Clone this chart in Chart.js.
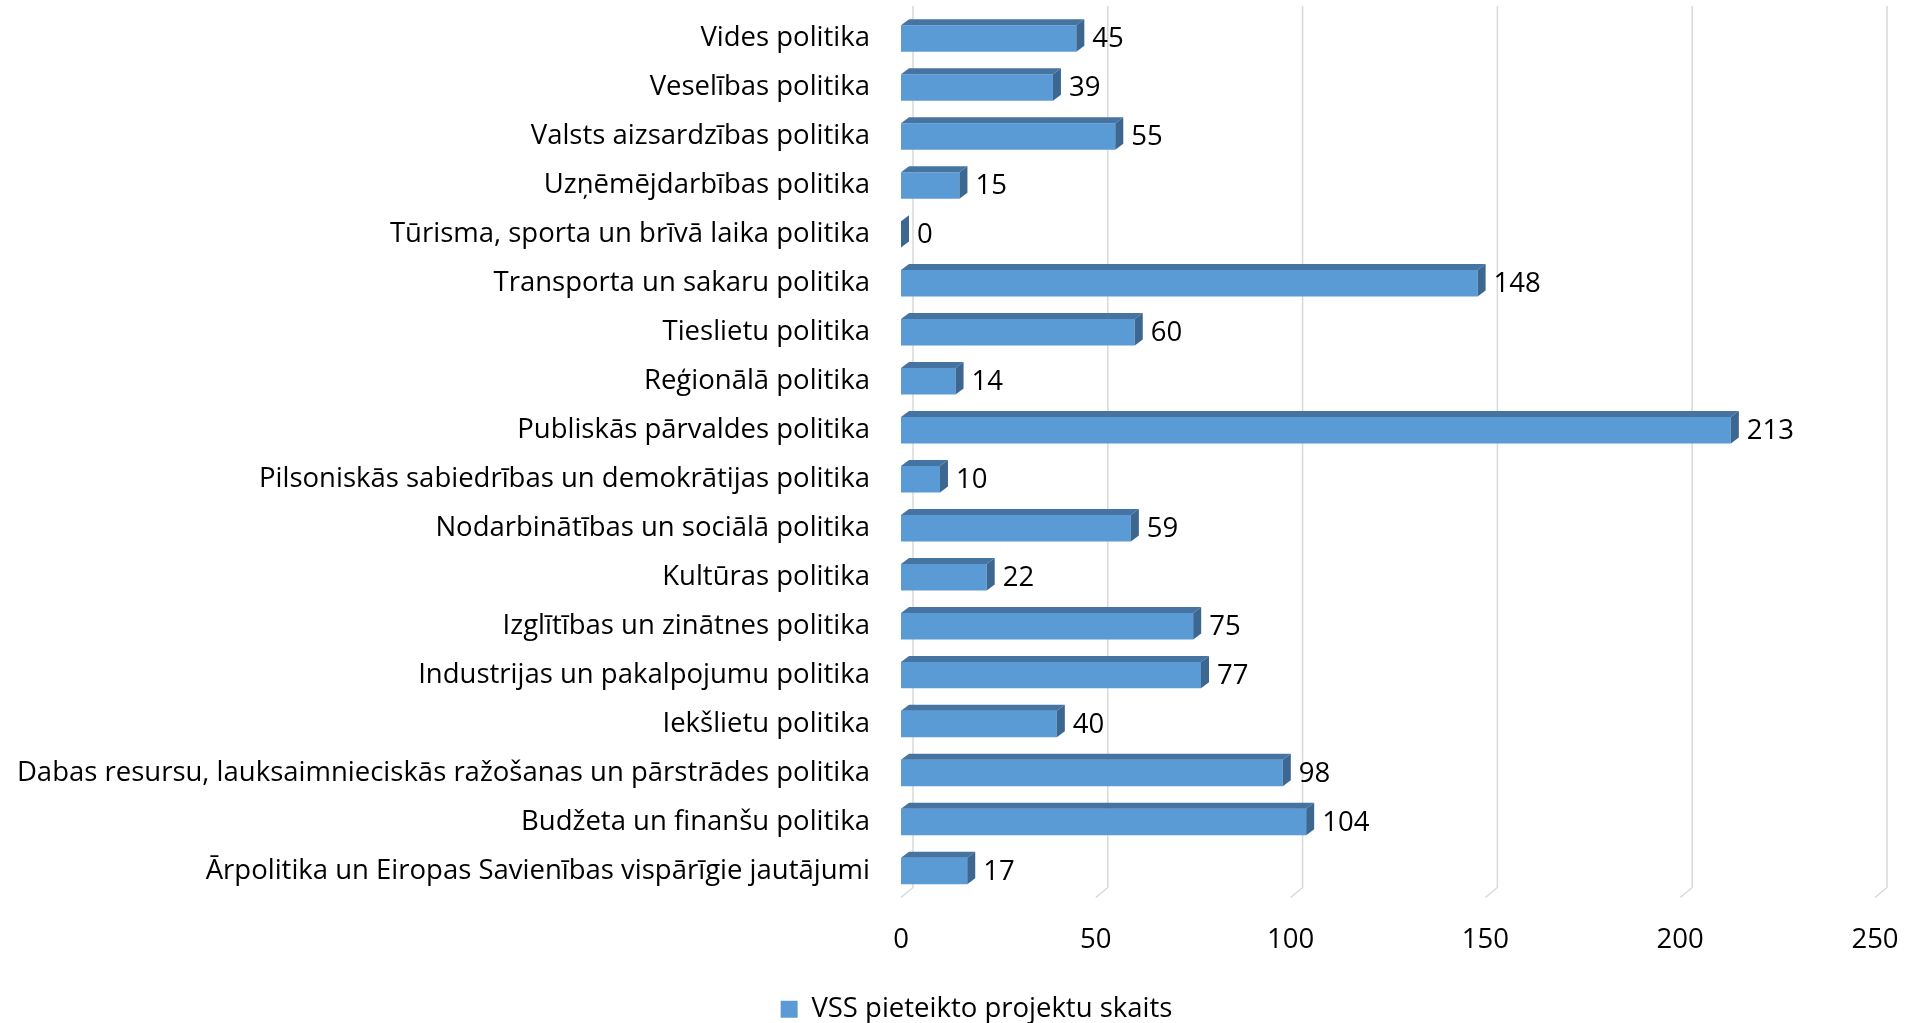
<!DOCTYPE html>
<html>
<head>
<meta charset="utf-8">
<script src="https://cdn.jsdelivr.net/npm/chart.js@4/dist/chart.umd.min.js"></script>
<style>
  html, body { margin: 0; padding: 0; background: #fff; }
  #wrap { width: 1908px; height: 1023px; }
</style>
</head>
<body>
<div id="wrap"><canvas id="grafiks"></canvas></div>
<script>
// Jomas (augšā -> lejā)
const jomas = [
    'Vides politika',
    'Veselības politika',
    'Valsts aizsardzības politika',
    'Uzņēmējdarbības politika',
    'Tūrisma, sporta un brīvā laika politika',
    'Transporta un sakaru politika',
    'Tieslietu politika',
    'Reģionālā politika',
    'Publiskās pārvaldes politika',
    'Pilsoniskās sabiedrības un demokrātijas politika',
    'Nodarbinātības un sociālā politika',
    'Kultūras politika',
    'Izglītības un zinātnes politika',
    'Industrijas un pakalpojumu politika',
    'Iekšlietu politika',
    'Dabas resursu, lauksaimnieciskās ražošanas un pārstrādes politika',
    'Budžeta un finanšu politika',
    'Ārpolitika un Eiropas Savienības vispārīgie jautājumi'
];
const projekti = [45, 39, 55, 15, 0, 148, 60, 14, 213, 10, 59, 22, 75, 77, 40, 98, 104, 17];
const asuTicks = [0, 50, 100, 150, 200, 250];
const sērija = 'VSS pieteikto projektu skaits';

const FONTS = "'Open Sans', 'Noto Sans', sans-serif";
const FSIZE = 27.5;
const krāsa = '#5b9bd5';
const krāsaAugša = '#4574a3';
const krāsaSāns = '#3c6791';

// Imitē Excel 3D stabiņus: aizmugures režģis + augšējā un sānu skaldne
const bar3d = {
    id: 'bar3d',
    afterLayout(chart) {
        // leģenda Excel attēlā ir nedaudz pa labi un zemāk
        const lg = chart.legend;
        if (lg) {
            lg.left += 78;
            lg.top += 10;
            lg.bottom += 10;
        }
    },
    beforeDatasetsDraw(chart) {
        const { ctx, chartArea } = chart;
        const xs = chart.scales.x;
        ctx.save();
        ctx.strokeStyle = '#d9d9d9';
        ctx.lineWidth = 1.5;
        asuTicks.forEach(v => {
            const px = xs.getPixelForValue(v);
            ctx.beginPath();
            ctx.moveTo(px + 12, chartArea.top - 8);
            ctx.lineTo(px + 12, chartArea.bottom - 8);
            ctx.lineTo(px, chartArea.bottom + 2);
            ctx.stroke();
        });
        ctx.restore();
    },
    afterDatasetsDraw(chart) {
        const { ctx } = chart;
        const meta = chart.getDatasetMeta(0);
        const dx = 8, dy = 6;
        ctx.save();
        meta.data.forEach((el, i) => {
            const p = el.getProps(['x', 'y', 'base', 'height'], true);
            const t = p.y - p.height / 2;
            const b = p.y + p.height / 2;
            // augša
            ctx.fillStyle = krāsaAugša;
            ctx.beginPath();
            ctx.moveTo(p.base, t);
            ctx.lineTo(p.x, t);
            ctx.lineTo(p.x + dx, t - dy);
            ctx.lineTo(p.base + dx, t - dy);
            ctx.closePath();
            ctx.fill();
            // sāns
            ctx.fillStyle = krāsaSāns;
            ctx.beginPath();
            ctx.moveTo(p.x, t);
            ctx.lineTo(p.x + dx, t - dy);
            ctx.lineTo(p.x + dx, b - dy);
            ctx.lineTo(p.x, b);
            ctx.closePath();
            ctx.fill();
            // vērtība
            ctx.fillStyle = '#000';
            ctx.font = FSIZE + 'px ' + FONTS;
            ctx.textAlign = 'left';
            ctx.textBaseline = 'middle';
            ctx.fillText(String(projekti[i]), p.x + dx + 8, p.y + 1);
        });
        ctx.restore();
    }
};

document.addEventListener('DOMContentLoaded', () => {
    Chart.defaults.font.family = FONTS;
    Chart.defaults.font.size = FSIZE;
    Chart.defaults.color = '#000';

    new Chart(document.getElementById('grafiks'), {
        type: 'bar',
        data: {
            labels: jomas,
            datasets: [{
                label: sērija,
                data: projekti,
                backgroundColor: krāsa,
                borderWidth: 0,
                categoryPercentage: 1,
                barPercentage: 0.54
            }]
        },
        options: {
            indexAxis: 'y',
            responsive: true,
            maintainAspectRatio: false,
            animation: false,
            layout: { padding: { top: 14, right: 33, left: 0, bottom: 0 } },
            plugins: {
                legend: {
                    position: 'bottom',
                    labels: { boxWidth: 17, boxHeight: 17, padding: 4, font: { size: FSIZE } }
                },
                tooltip: { enabled: false }
            },
            scales: {
                x: {
                    min: 0,
                    max: 250,
                    ticks: { stepSize: 50, padding: 20 },
                    grid: { display: false },
                    border: { display: false },
                    afterFit(scale) {
                        scale.height = 86;
                        scale.paddingLeft = 0;
                        scale.paddingRight = 0;
                    }
                },
                y: {
                    ticks: { padding: 23, autoSkip: false },
                    grid: { display: false },
                    border: { display: false },
                    afterFit(scale) {
                        scale.width = 901;
                        scale.paddingTop = 0;
                        scale.paddingBottom = 0;
                    }
                }
            }
        },
        plugins: [bar3d]
    });
});
</script>
</body>
</html>
